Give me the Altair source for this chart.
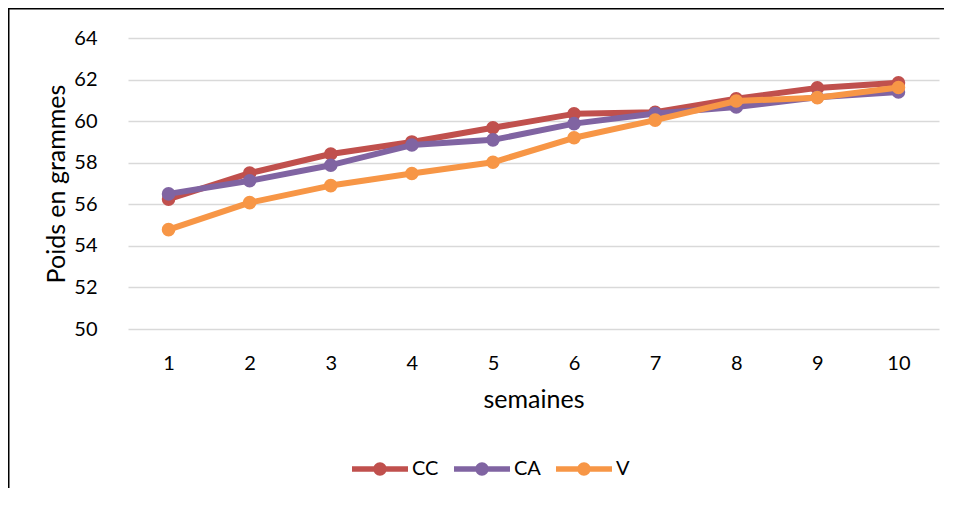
import altair as alt
import pandas as pd

# ---- data ----
semaines = [1, 2, 3, 4, 5, 6, 7, 8, 9, 10]
series = ["CC", "CA", "V"]
cc = [56.25, 57.50, 58.42, 59.00, 59.68, 60.35, 60.43, 61.08, 61.60, 61.85]
ca = [56.50, 57.13, 57.88, 58.85, 59.10, 59.88, 60.37, 60.68, 61.15, 61.40]
v = [54.78, 56.08, 56.90, 57.48, 58.02, 59.20, 60.05, 60.97, 61.13, 61.62]
colors = ["#C0504D", "#8064A2", "#F79646"]
y_ticks = [50, 52, 54, 56, 58, 60, 62, 64]

rows = []
for name, vals in zip(series, [cc, ca, v]):
    for s, val in zip(semaines, vals):
        rows.append({"semaine": s, "serie": name, "poids": val})
df = pd.DataFrame(rows)

FONT = "Lato"
W, H = 811, 291

x = alt.X(
    "semaine:O",
    title="semaines",
    scale=alt.Scale(paddingOuter=0.5),
    axis=alt.Axis(
        labelAngle=0, labelFont=FONT, labelFontSize=20, labelColor="#000000",
        labelPadding=24, ticks=False, tickSize=0, domain=False, grid=False,
        titleFont=FONT, titleFontSize=25, titleFontWeight="normal",
        titleColor="#000000", titlePadding=14,
    ),
)
y = alt.Y(
    "poids:Q",
    title="Poids en grammes",
    scale=alt.Scale(domain=[50, 64], nice=False, zero=False),
    axis=alt.Axis(
        values=y_ticks, labelFont=FONT, labelFontSize=20, labelColor="#000000",
        labelPadding=31, ticks=False, tickSize=0, domain=False,
        grid=True, gridColor="#d9d9d9", gridWidth=1.4,
        titleFont=FONT, titleFontSize=25, titleFontWeight="normal",
        titleColor="#000000", titlePadding=4,
    ),
)

legend_symbol = (
    "M-1,-0.1 L1,-0.1 L1,0.1 L-1,0.1 Z "
    "M0.24,0 A0.24,0.24 0 1,1 -0.24,0 A0.24,0.24 0 1,1 0.24,0 Z"
)

color_scale = alt.Scale(domain=series, range=colors)
color_leg = alt.Color(
    "serie:N", scale=color_scale, sort=series,
    legend=alt.Legend(
        title=None, orient="none", legendX=224, legendY=403,
        direction="horizontal", symbolType=legend_symbol, symbolSize=3136,
        symbolStrokeWidth=0, symbolOpacity=1, labelFont=FONT, labelFontSize=20,
        labelColor="#000000", labelOffset=4, columnPadding=15,
    ),
)

layers = []
for name, col in zip(series, colors):
    base = alt.Chart(df).transform_filter(alt.datum.serie == name)
    line = base.mark_line(
        strokeWidth=6, strokeJoin="round", strokeCap="round", color=col
    ).encode(x=x, y=y)
    pts = base.mark_circle(size=185, opacity=1).encode(x=x, y=y, color=color_leg)
    layers += [line, pts]

frame_src = alt.Chart(alt.Data(values=[{}]))
frame_left = frame_src.mark_rule(color="#000000", strokeWidth=2).encode(
    x=alt.value(-119.5), y=alt.value(-30), y2=alt.value(450)
)
frame_top = frame_src.mark_rule(color="#000000", strokeWidth=2).encode(
    x=alt.value(-120), x2=alt.value(816), y=alt.value(-29.5)
)

chart = (
    alt.layer(*layers, frame_left, frame_top)
    .properties(
        width=W, height=H,
        autosize=alt.AutoSizeParams(type="none"),
        padding={"left": 120, "top": 30, "right": 5, "bottom": 159},
        background="#ffffff",
    )
    .configure_view(stroke=None)
)

chart.save("out.html", embed_options={"renderer": "svg", "actions": False})
